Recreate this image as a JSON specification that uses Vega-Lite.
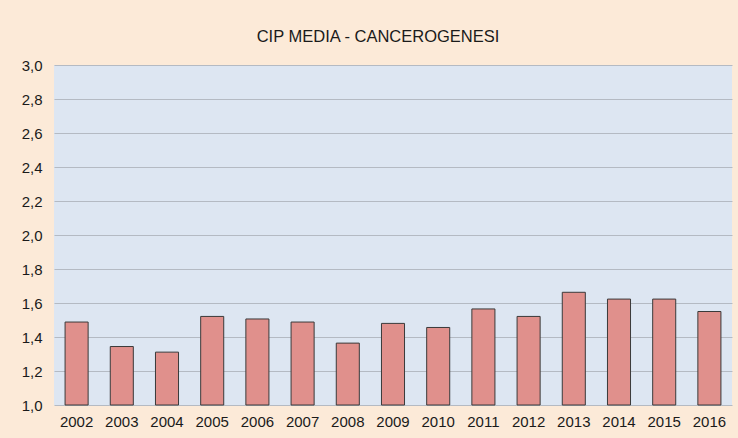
{
  "$schema": "https://vega.github.io/schema/vega-lite/v6.json",
  "width": 678,
  "height": 340,
  "autosize": {"type": "none"},
  "padding": {"left": 54, "top": 65, "right": 6, "bottom": 33},
  "background": "#FCEAD8",
  "title": {
    "text": "CIP MEDIA - CANCEROGENESI",
    "font": "Liberation Sans",
    "fontSize": 16.5,
    "fontWeight": "normal",
    "color": "#1a1a1a",
    "anchor": "middle",
    "offset": 13,
    "dx": -15
  },
  "config": {
    "view": {"fill": "#DDE6F2", "stroke": null},
    "axis": {
      "labelFont": "Liberation Sans",
      "labelFontSize": 15,
      "labelColor": "#1a1a1a",
      "ticks": false,
      "domain": false,
      "title": null
    }
  },
  "data": {
    "values": [
      {"anno": "2002", "valore": 1.488},
      {"anno": "2003", "valore": 1.344},
      {"anno": "2004", "valore": 1.311},
      {"anno": "2005", "valore": 1.521},
      {"anno": "2006", "valore": 1.506},
      {"anno": "2007", "valore": 1.488},
      {"anno": "2008", "valore": 1.364},
      {"anno": "2009", "valore": 1.480},
      {"anno": "2010", "valore": 1.456},
      {"anno": "2011", "valore": 1.565},
      {"anno": "2012", "valore": 1.521},
      {"anno": "2013", "valore": 1.663},
      {"anno": "2014", "valore": 1.623},
      {"anno": "2015", "valore": 1.623},
      {"anno": "2016", "valore": 1.550}
    ]
  },
  "mark": {"type": "bar", "color": "#E0908C", "stroke": "#3a3a3a", "strokeWidth": 1},
  "encoding": {
    "x": {
      "field": "anno",
      "type": "ordinal",
      "scale": {"paddingInner": 0.49, "paddingOuter": 0.245},
      "axis": {"labelAngle": 0, "labelPadding": 9, "grid": false}
    },
    "y": {
      "field": "valore",
      "type": "quantitative",
      "scale": {"domain": [1, 3], "zero": false, "clamp": true},
      "axis": {
        "values": [1.0, 1.2, 1.4, 1.6, 1.8, 2.0, 2.2, 2.4, 2.6, 2.8, 3.0],
        "format": ".1f",
        "labelExpr": "replace(format(datum.value, '.1f'), '.', ',')",
        "labelPadding": 12,
        "grid": true,
        "gridColor": "#B4BAC3",
        "gridWidth": 1
      }
    }
  }
}
